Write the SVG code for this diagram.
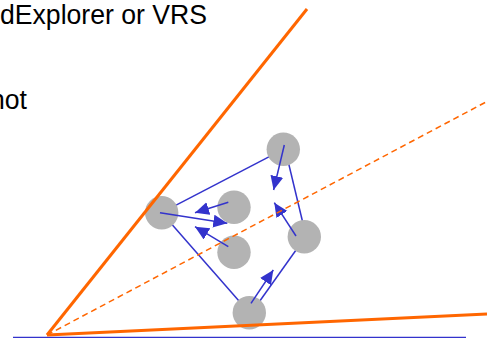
<svg xmlns="http://www.w3.org/2000/svg" width="487" height="338" viewBox="0 0 487 338">
<style>
.t{font-family:"Liberation Sans",Arial,sans-serif;font-size:27.5px;fill:#000}
.edge{stroke:#3333cc;stroke-width:1.5;fill:none}
.arr{stroke:#3333cc;stroke-width:1.5;fill:none;marker-end:url(#ah)}
.node{fill:#b3b3b3}
.or{stroke:#ff6600;stroke-width:3;fill:none}
.ord{stroke:#ff6600;stroke-width:1.5;fill:none;stroke-dasharray:6 4}
</style>
<defs>
<marker id="ah" markerUnits="userSpaceOnUse" markerWidth="15" markerHeight="14" refX="14" refY="6.5" orient="auto" viewBox="0 0 15 14">
<path d="M0,0 L14,6.5 L0,13 z" fill="#3333cc"/>
</marker>
</defs>
<text class="t" x="0" y="24" textLength="207" lengthAdjust="spacingAndGlyphs">dExplorer or VRS</text>
<text class="t" x="-10" y="109" textLength="37" lengthAdjust="spacingAndGlyphs">hot</text>
<g id="edges">
<line class="edge" x1="161.7" y1="212.7" x2="283.3" y2="149.3"/>
<line class="edge" x1="285.4" y1="150" x2="306" y2="236"/>
<line class="edge" x1="306" y1="236" x2="252" y2="312"/>
<line class="edge" x1="249.3" y1="312.7" x2="161.7" y2="212.7"/>
</g>
<g id="n1"><circle class="node" cx="283.3" cy="149.3" r="16.7"/></g>
<g id="n2"><circle class="node" cx="161.7" cy="212.7" r="16.7"/></g>
<g id="n3"><circle class="node" cx="234" cy="207.3" r="16.7"/></g>
<g id="n4"><circle class="node" cx="234" cy="252.3" r="16.7"/></g>
<g id="n5"><circle class="node" cx="304.3" cy="236.7" r="16.7"/></g>
<g id="n6"><circle class="node" cx="249.3" cy="312.7" r="16.7"/></g>
<g id="connectors">
<line class="arr" x1="284.3" y1="145" x2="273.6" y2="190"/>
<line class="arr" x1="296" y1="236" x2="274.3" y2="202.7"/>
<line class="arr" x1="228.3" y1="202.3" x2="195" y2="212.7"/>
<line class="arr" x1="160" y1="212.7" x2="227.3" y2="223.3"/>
<line class="arr" x1="228.3" y1="246.7" x2="195" y2="226.7"/>
<line class="arr" x1="251" y1="303.3" x2="273.3" y2="270"/>
</g>
<g id="axes">
<line x1="13" y1="337.5" x2="466" y2="337.5" stroke="#3333cc" stroke-width="1.5"/>
<line class="ord" x1="47" y1="335" x2="486" y2="102"/>
<line class="or" x1="47" y1="335" x2="307" y2="9"/>
<line class="or" x1="47" y1="335" x2="487" y2="314"/>
</g>
</svg>
